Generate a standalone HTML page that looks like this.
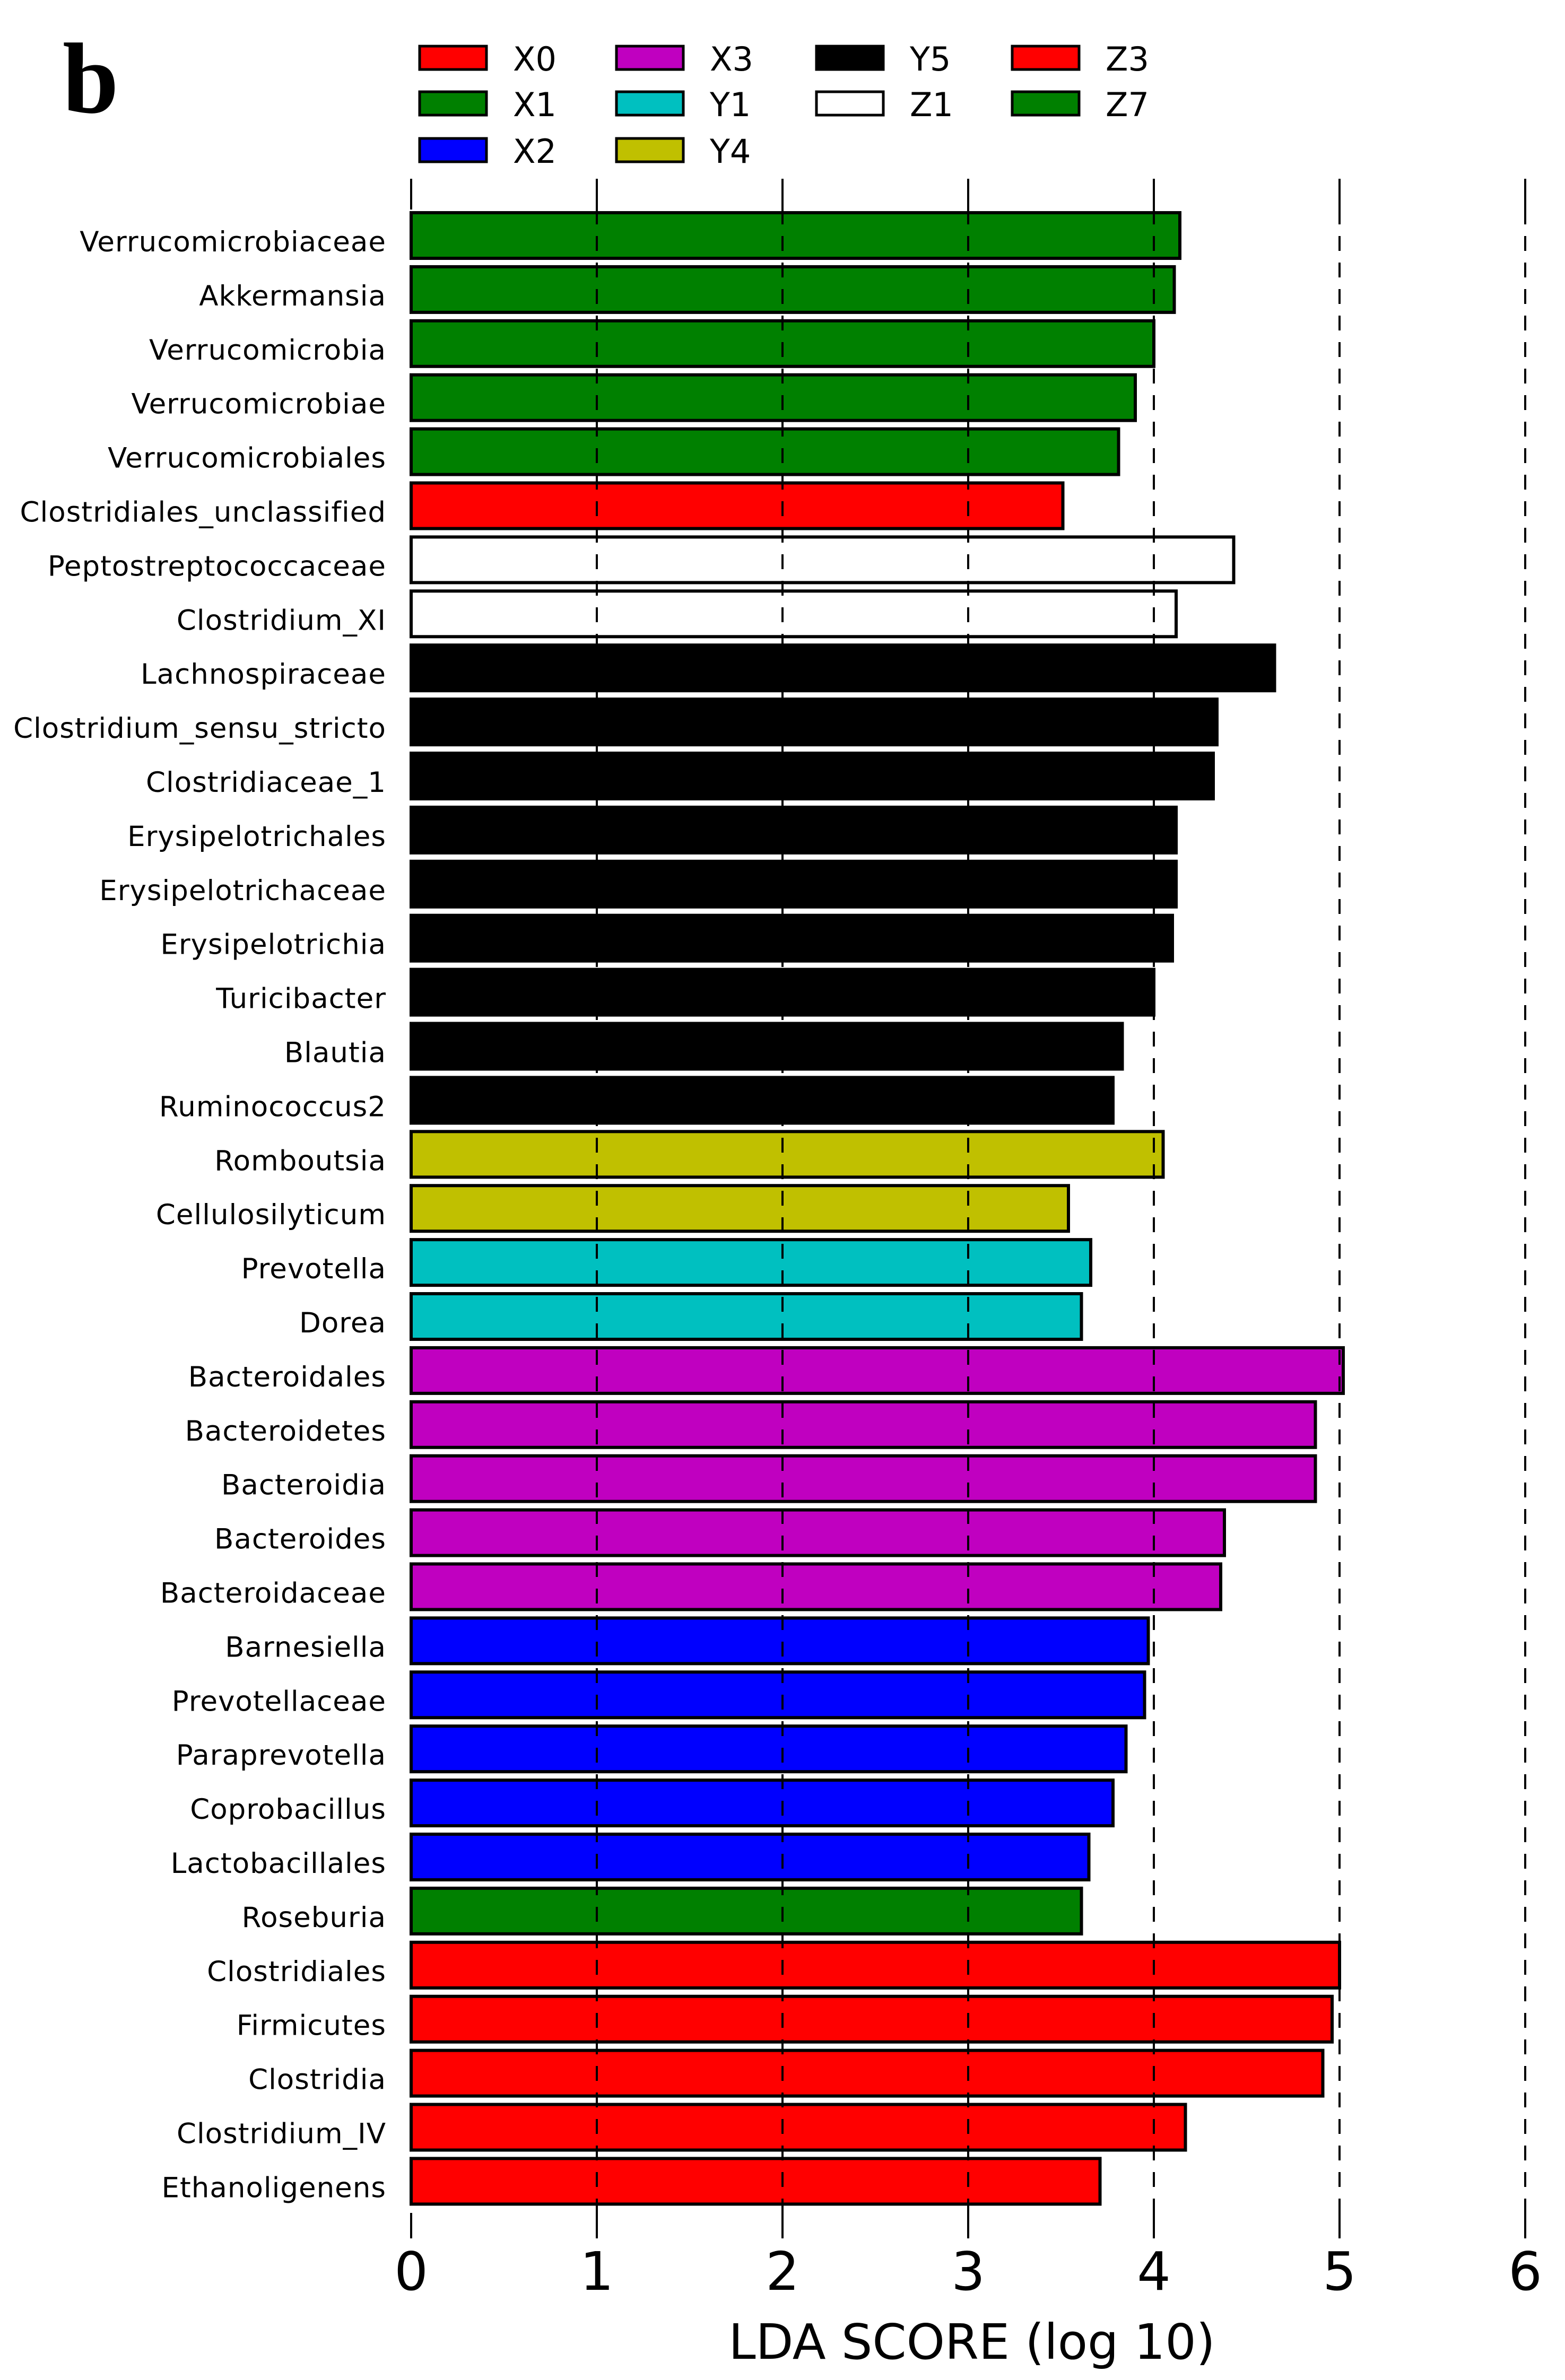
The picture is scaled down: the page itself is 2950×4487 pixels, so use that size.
<!DOCTYPE html>
<html><head><meta charset="utf-8"><style>
html,body{margin:0;padding:0;background:#fff}
svg{display:block}
</style></head><body>
<svg id="chart" width="2950" height="4487" viewBox="0 0 2950 4487" xmlns="http://www.w3.org/2000/svg">
<text x="118" y="212" font-family="Liberation Serif, serif" font-weight="bold" font-size="190">b</text>
<g id="legend"></g>
<g id="grid"></g>
<g id="bars"></g>
<g id="labels"></g>
<g id="xaxis"></g>
<text x="1832" y="4447" text-anchor="middle" font-family="DejaVu Sans, sans-serif" font-size="92">LDA SCORE (log 10)</text>
</svg>
<script>
const categories = ["Verrucomicrobiaceae","Akkermansia","Verrucomicrobia","Verrucomicrobiae","Verrucomicrobiales","Clostridiales_unclassified","Peptostreptococcaceae","Clostridium_XI","Lachnospiraceae","Clostridium_sensu_stricto","Clostridiaceae_1","Erysipelotrichales","Erysipelotrichaceae","Erysipelotrichia","Turicibacter","Blautia","Ruminococcus2","Romboutsia","Cellulosilyticum","Prevotella","Dorea","Bacteroidales","Bacteroidetes","Bacteroidia","Bacteroides","Bacteroidaceae","Barnesiella","Prevotellaceae","Paraprevotella","Coprobacillus","Lactobacillales","Roseburia","Clostridiales","Firmicutes","Clostridia","Clostridium_IV","Ethanoligenens"];
const values = [4.14,4.11,4.0,3.90,3.81,3.51,4.43,4.12,4.65,4.34,4.32,4.12,4.12,4.10,4.0,3.83,3.78,4.05,3.54,3.66,3.61,5.02,4.87,4.87,4.38,4.36,3.97,3.95,3.85,3.78,3.65,3.61,5.0,4.96,4.91,4.17,3.71];
const groups = ["Z7","Z7","Z7","Z7","Z7","Z3","Z1","Z1","Y5","Y5","Y5","Y5","Y5","Y5","Y5","Y5","Y5","Y4","Y4","Y1","Y1","X3","X3","X3","X3","X3","X2","X2","X2","X2","X2","X1","X0","X0","X0","X0","X0"];
const legendNames = ["X0","X1","X2","X3","Y1","Y4","Y5","Z1","Z3","Z7"];
const legendColors = ["#ff0000","#008000","#0000ff","#c000c0","#00c0c0","#c0c000","#000000","#ffffff","#ff0000","#008000"];
const legendCol = [0,0,0,1,1,1,2,2,3,3];
const legendRow = [0,1,2,0,1,2,0,1,0,1];
const ticks = [0,1,2,3,4,5,6];

const NS="http://www.w3.org/2000/svg";
const x0=775, unit=350, yFirst=444, step=101.9, barH=86;
const xs=v=>x0+v*unit;
const ys=i=>yFirst+i*step;
function mk(tag,attrs,parent){const e=document.createElementNS(NS,tag);for(const k in attrs)e.setAttribute(k,attrs[k]);parent.appendChild(e);return e;}
const colorOf=g=>legendColors[legendNames.indexOf(g)];

const lg=document.getElementById('legend');
const colX=[791,1162,1539,1908], rowY=[109,195,283];
legendNames.forEach((n,i)=>{
  const c=legendCol[i], r=legendRow[i];
  const sw=mk('rect',{x:colX[c],y:rowY[r]-22,width:126,height:44,fill:legendColors[i],stroke:'#000','stroke-width':5},lg);
  
  
  const t=mk('text',{x:colX[c]+176,y:rowY[r]+24,'font-family':'DejaVu Sans, sans-serif','font-size':62},lg);
  t.textContent=n;
  
  
});

const gr=document.getElementById('grid');
const xa=document.getElementById('xaxis');
ticks.forEach(t=>{
  const x=xs(t);
  const top=mk('line',{x1:x,x2:x,y1:337,y2:395,stroke:'#000','stroke-width':4},xa);
  
  
  const bot=mk('line',{x1:x,x2:x,y1:4172,y2:4220,stroke:'#000','stroke-width':4},xa);
  
  
  if(t>0){
    const g=mk('line',{x1:x,x2:x,y1:395,y2:4172,stroke:'#000','stroke-width':4,'stroke-dasharray':'28,22'},gr);
    
    
  }
  const lab=mk('text',{x:x,y:4317,'text-anchor':'middle','font-family':'DejaVu Sans, sans-serif','font-size':100},xa);
  lab.textContent=t;
  
  
});

const bg=document.getElementById('bars'), lb=document.getElementById('labels');
categories.forEach((c,i)=>{
  const y=ys(i);
  const r=mk('rect',{x:x0,y:y-barH/2,width:xs(values[i])-x0,height:barH,fill:colorOf(groups[i]),stroke:'#000','stroke-width':6},bg);
  
  
  const t=mk('text',{x:728,y:y+30,'text-anchor':'end','font-family':'DejaVu Sans, sans-serif','font-size':53,'letter-spacing':1},lb);
  t.textContent=c;
  
  
});
gr.parentNode.insertBefore(bg,gr);
</script>
</body></html>
